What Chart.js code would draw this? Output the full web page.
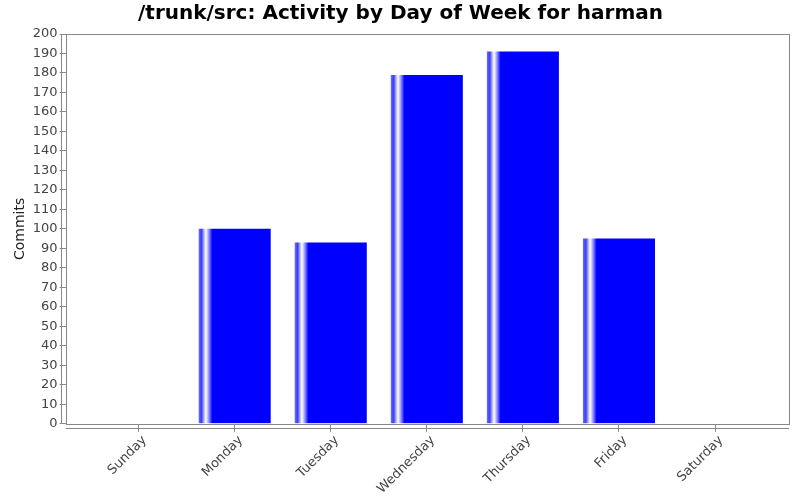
<!DOCTYPE html>
<html>
<head>
<meta charset="utf-8">
<script src="https://cdn.jsdelivr.net/npm/chart.js@4/dist/chart.umd.min.js"></script>
<style>
  html, body { margin: 0; padding: 0; background: #fff; }
  #wrap { width: 800px; height: 500px; }
</style>
</head>
<body>
<div id="wrap"><canvas id="myChart" width="800" height="500"></canvas></div>
<script>
// data
const days = ['Sunday', 'Monday', 'Tuesday', 'Wednesday', 'Thursday', 'Friday', 'Saturday'];
const commits = [0, 100, 93, 179, 191, 95, 0];
const yTicks = [0, 10, 20, 30, 40, 50, 60, 70, 80, 90, 100, 110, 120, 130, 140, 150, 160, 170, 180, 190, 200];

const FONT = 'DejaVu Sans';
const GRAY = '#888888';

// horizontal gradient like the JFreeChart bar painter, built per bar
function barGradient(context) {
    const chart = context.chart;
    const xs = chart.scales.x;
    if (!xs || context.dataIndex == null) return '#0000ff';
    const centre = xs.getPixelForValue(context.dataIndex);
    const w = Math.abs(xs.getPixelForValue(1) - xs.getPixelForValue(0)) * 0.75;
    const left = centre - w / 2;
    if (!isFinite(left) || !isFinite(w) || w <= 0) return '#0000ff';
    const g = chart.ctx.createLinearGradient(left, 0, left + w, 0);
    g.addColorStop(0, '#7070ff');
    g.addColorStop(0.04, '#3a3aff');
    g.addColorStop(0.08, '#c8c8ff');
    g.addColorStop(0.1, '#ffffff');
    g.addColorStop(0.13, '#b0b0ff');
    g.addColorStop(0.19, '#0000ff');
    g.addColorStop(1, '#0000ff');
    return g;
}

// plot outline and the offset axis lines
const frame = {
    id: 'frame',
    afterDatasetsDraw(chart) {
        const a = chart.chartArea;
        const c = chart.ctx;
        c.save();
        c.strokeStyle = GRAY;
        c.lineWidth = 1;
        c.strokeRect(Math.round(a.left) + 0.5, Math.round(a.top) + 0.5,
                     Math.round(a.right - a.left), Math.round(a.bottom - a.top));
        c.beginPath();
        c.moveTo(Math.round(a.left) - 4.5, a.top);
        c.lineTo(Math.round(a.left) - 4.5, a.bottom);
        c.moveTo(a.left, Math.round(a.bottom) + 4.5);
        c.lineTo(a.right, Math.round(a.bottom) + 4.5);
        c.stroke();
        c.restore();
    }
};

const config = {
    type: 'bar',
    data: {
        datasets: [{
            label: 'Commits',
            data: commits.map((v, i) => ({ x: i, y: v })),
            backgroundColor: barGradient,
            borderWidth: 0,
            barPercentage: 0.75,
            categoryPercentage: 1.0
        }]
    },
    options: {
        responsive: false,
        animation: false,
        layout: { padding: { left: 12, right: 11, top: 0, bottom: 2 } },
        plugins: {
            legend: { display: false },
            tooltip: { enabled: false },
            title: {
                display: true,
                text: '/trunk/src: Activity by Day of Week for harman',
                color: '#000',
                font: { family: FONT, size: 20, weight: 'bold' },
                padding: { top: 2, bottom: 8 }
            }
        },
        scales: {
            x: {
                type: 'linear',
                offset: false,
                min: -0.76,
                max: 6.77,
                afterBuildTicks: s => { s.ticks = days.map((d, i) => ({ value: i })); },
                ticks: {
                    callback: v => days[v],
                    maxRotation: 45,
                    minRotation: 45,
                    labelOffset: 6,
                    color: '#444',
                    font: { family: FONT, size: 13 },
                    padding: 1
                },
                grid: { display: true, offset: false, drawOnChartArea: false, tickLength: 8, color: GRAY },
                border: { display: false }
            },
            y: {
                min: 0,
                max: 200,
                afterBuildTicks: s => { s.ticks = yTicks.map(v => ({ value: v })); },
                ticks: {
                    color: '#444',
                    font: { family: FONT, size: 13 },
                    padding: 2
                },
                title: {
                    display: true,
                    text: 'Commits',
                    color: '#222',
                    font: { family: FONT, size: 14 },
                    padding: { top: 0, bottom: 2 }
                },
                grid: { display: true, drawOnChartArea: false, tickLength: 6, color: GRAY },
                border: { display: false }
            }
        }
    },
    plugins: [frame]
};

new Chart(document.getElementById('myChart'), config);
</script>
</body>
</html>
